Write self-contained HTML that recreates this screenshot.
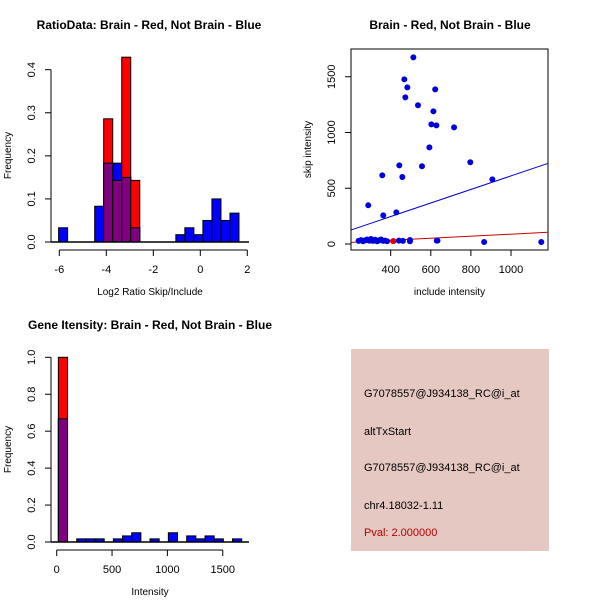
<!DOCTYPE html>
<html><head><meta charset="utf-8"><style>
body{margin:0;background:#fff}
svg{display:block;font-family:"Liberation Sans",sans-serif}
</style></head><body>
<svg id="s" width="600" height="600" xmlns="http://www.w3.org/2000/svg">
<rect width="600" height="600" fill="#fff"/>
<g id="p1"></g>
<g id="p2"></g>
<g id="p3"></g>
<g>
<rect x="351" y="349" width="198" height="202" fill="#e6c8c2"/>
<g font-size="11" fill="#000">
<text x="364" y="397">G7078557@J934138_RC@i_at</text>
<text x="364" y="435">altTxStart</text>
<text x="364" y="471">G7078557@J934138_RC@i_at</text>
<text x="364" y="509">chr4.18032-1.11</text>
<text x="364" y="536" fill="#b00000">Pval: 2.000000</text>
</g></g>
</svg>
<script>
// ---- panel 1 data
const ratioBreakStart = -6.03, ratioBreakStep = 0.3838;
const ratioBlue = [0.033,0,0,0,0.083,0.183,0.183,0.15,0.033,0,0,0,0,0.017,0.033,0.017,0.05,0.1,0.05,0.067];
const ratioRed  = [0,0,0,0,0,0.286,0.143,0.429,0.143,0,0,0,0,0,0,0,0,0,0,0];
const ratioXTicks = [-6,-4,-2,0,2];
const ratioYTicks = [0,0.1,0.2,0.3,0.4];
// ---- panel 2 data
const scatBlueX = [513,468,483,473,622,536,613,603,628,716,593,797,443,556,358,458,907,288,363,428,633,866,1151,496,441,461,496,630,240,252,262,272,282,292,302,312,322,332,342,352,362,372,382];
const scatBlueY = [1674,1477,1405,1315,1387,1244,1190,1073,1064,1046,867,733,705,697,616,601,580,347,257,284,30,18,18,36,30,28,25,30,28,35,25,32,40,30,45,28,38,25,33,40,28,30,25];
const scatRedX = [413,300,330];
const scatRedY = [26,30,28];
const lineBlue = [3,0.608];  // intercept, slope
const lineRed = [-3.5,0.0916];
const scatXTicks = [400,600,800,1000];
const scatYTicks = [0,500,1000,1500];
// ---- panel 3 data
const intBreakStart = 15, intBreakStep = 82.8;
const intBlue = [0.667,0,0.017,0.017,0.017,0,0.017,0.033,0.05,0,0.017,0,0.05,0,0.033,0.017,0.033,0.017,0,0.017];
const intRed  = [1.0,0,0,0,0,0,0,0,0,0,0,0,0,0,0,0,0,0,0,0];
const intXTicks = [0,500,1000,1500];
const intYTicks = [0,0.2,0.4,0.6,0.8,1.0];

const NS="http://www.w3.org/2000/svg";
function mk(parent,tag,attrs,text){const e=document.createElementNS(NS,tag);for(const k in attrs)e.setAttribute(k,attrs[k]);if(text!==undefined)e.textContent=text;parent.appendChild(e);return e;}

function axes(g,sx,sy,xt,yt,x0,x1,y0,y1,xLab,yLab,title,tx,ty,xAxisY,yAxisX,fmtY){
  const xl=mk(g,'line',{x1:sx(xt[0]),x2:sx(xt[xt.length-1]),y1:xAxisY,y2:xAxisY,stroke:'#000'});
  
  
  xt.forEach(v=>{
    mk(g,'line',{x1:sx(v),x2:sx(v),y1:xAxisY,y2:xAxisY+6,stroke:'#000'});
    const t=mk(g,'text',{x:sx(v),y:xAxisY+23,'text-anchor':'middle','font-size':11},String(v));
    
    
  });
  const yl=mk(g,'line',{x1:yAxisX,x2:yAxisX,y1:sy(yt[0]),y2:sy(yt[yt.length-1]),stroke:'#000'});
  
  
  yt.forEach(v=>{
    mk(g,'line',{x1:yAxisX,x2:yAxisX-6,y1:sy(v),y2:sy(v),stroke:'#000'});
    const t=mk(g,'text',{x:0,y:0,'text-anchor':'middle','font-size':11,transform:`translate(${yAxisX-16},${sy(v)}) rotate(-90)`},fmtY(v));
    
    
  });
  const a=mk(g,'text',{x:(x0+x1)/2,y:xAxisY+45,'text-anchor':'middle','font-size':10},xLab);
  
  
  const b=mk(g,'text',{x:0,y:0,'text-anchor':'middle','font-size':10,transform:`translate(${yAxisX-40},${(y0+y1)/2}) rotate(-90)`},yLab);
  
  
  const c=mk(g,'text',{x:tx,y:ty,'text-anchor':'middle','font-size':12,'font-weight':'bold'},title);
  
  
}

function hist(g,sx,sy,start,step,blue,red,baseY){
  for(let k=0;k<blue.length;k++){
    const xa=sx(start+k*step), xb=sx(start+(k+1)*step);
    const b=blue[k], r=red[k];
    [[b,'#0000ff','bar-blue'],[r,'#ff0000','bar-red']].forEach(([v,c,n])=>{
      if(v>0){const e=mk(g,'rect',{x:xa,y:sy(v),width:xb-xa,height:sy(0)-sy(v),fill:c,stroke:'#000','stroke-width':1});
      
      }
    });
    const m=Math.min(b,r);
    if(m>0){const e=mk(g,'rect',{x:xa,y:sy(m),width:xb-xa,height:sy(0)-sy(m),fill:'#800080',stroke:'#000','stroke-width':1});
    
    }
  }
  mk(g,'line',{x1:51,x2:249,y1:baseY,y2:baseY,stroke:'#000','stroke-width':1.5});
}

// panel 1
(function(){
  const g=document.getElementById('p1');
  const sx=v=>59.3+(v+6)*23.5, sy=v=>242-v*430.8;
  hist(g,sx,sy,ratioBreakStart,ratioBreakStep,ratioBlue,ratioRed,242);
  axes(g,sx,sy,ratioXTicks,ratioYTicks,51,249,69,242,'Log2 Ratio Skip/Include','Frequency','RatioData: Brain - Red, Not Brain - Blue',149,29,250,51,v=>v.toFixed(1));
})();
// panel 2
(function(){
  const g=document.getElementById('p2');
  const sx=v=>390.7+(v-400)*0.2005, sy=v=>244-v*0.1115;
  mk(g,'rect',{x:351,y:49,width:197,height:201,fill:'none',stroke:'#000'});
  const cl=mk(g,'clipPath',{id:'c2'});mk(cl,'rect',{x:351,y:49,width:197,height:201});
  const lg=mk(g,'g',{'clip-path':'url(#c2)'});
  [[lineBlue,'#0000cc','fit-line-blue'],[lineRed,'#cc0000','fit-line-red']].forEach(([l,c,n])=>{
    const e=mk(lg,'line',{x1:sx(150),y1:sy(l[0]+l[1]*150),x2:sx(1300),y2:sy(l[0]+l[1]*1300),stroke:c});
    
    
  });
  scatRedX.forEach((x,i)=>{const e=mk(g,'circle',{cx:sx(x),cy:sy(scatRedY[i]),r:3,fill:'#dd0000'});
    
    });
  scatBlueX.forEach((x,i)=>{const e=mk(g,'circle',{cx:sx(x),cy:sy(scatBlueY[i]),r:3,fill:'#0000dd'});
    
    });
  const r2=mk(g,'circle',{cx:sx(scatRedX[0]),cy:sy(scatRedY[0]),r:3,fill:'#dd0000'});
  
  
  axes(g,sx,sy,scatXTicks,scatYTicks,351,548,49,250,'include intensity','skip intensity','Brain - Red, Not Brain - Blue',450,29,250,351,v=>String(v));
})();
// panel 3
(function(){
  const g=document.getElementById('p3');
  const sx=v=>56.7+v*0.1107, sy=v=>542-v*184.7;
  hist(g,sx,sy,intBreakStart,intBreakStep,intBlue,intRed,542);
  axes(g,sx,sy,intXTicks,intYTicks,51,249,357,542,'Intensity','Frequency','Gene Itensity: Brain - Red, Not Brain - Blue',150,329,550,51,v=>v.toFixed(1));
})();
</script>
</body></html>
